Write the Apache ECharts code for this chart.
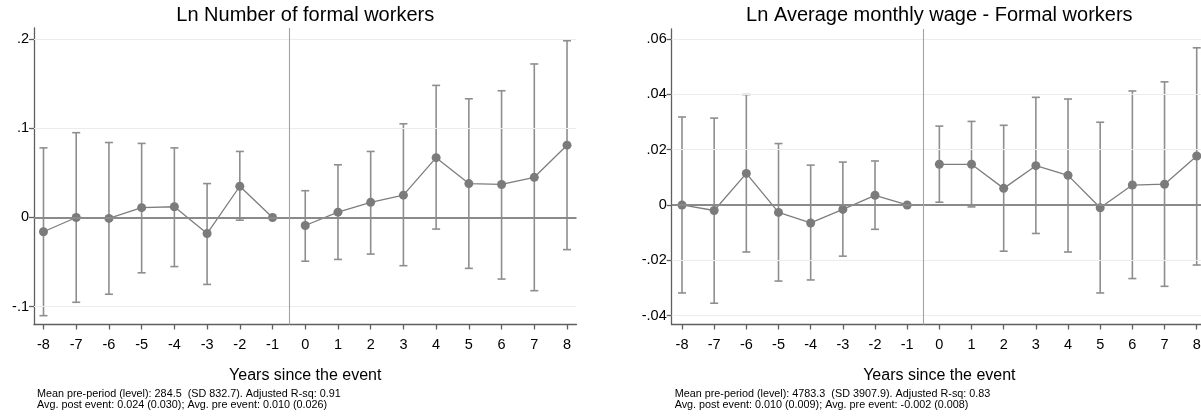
<!DOCTYPE html>
<html>
<head>
<meta charset="utf-8">
<script src="https://cdn.jsdelivr.net/npm/echarts@6/dist/echarts.min.js"></script>
<style>
html,body{margin:0;padding:0;background:#fff;}
#chart{width:1201px;height:418px;}
</style>
</head>
<body>
<div id="chart"></div>
<script>
// ---------------- data ----------------
const years = [-8, -7, -6, -5, -4, -3, -2, -1, 0, 1, 2, 3, 4, 5, 6, 7, 8];

const leftTitle = 'Ln Number of formal workers';
const leftCoef = [-0.016, 0.000, -0.001, 0.011, 0.012, -0.018, 0.035, 0, -0.009, 0.006, 0.017, 0.025, 0.067, 0.038, 0.037, 0.045, 0.081];
const leftLo   = [-0.110, -0.095, -0.086, -0.062, -0.055, -0.075, -0.003, null, -0.049, -0.047, -0.041, -0.054, -0.013, -0.057, -0.069, -0.082, -0.036];
const leftHi   = [0.078, 0.095, 0.084, 0.083, 0.078, 0.038, 0.074, null, 0.030, 0.059, 0.074, 0.105, 0.148, 0.133, 0.142, 0.172, 0.198];
const leftYTicks = [-0.1, 0, 0.1, 0.2];
const leftYTickLabels = ['-.1', '0', '.1', '.2'];
const leftNote = ['Mean pre-period (level): 284.5  (SD 832.7). Adjusted R-sq: 0.91',
                  'Avg. post event: 0.024 (0.030); Avg. pre event: 0.010 (0.026)'];

const rightTitle = 'Ln Average monthly wage - Formal workers';
const rightCoef = [0.000, -0.002, 0.0114, -0.0027, -0.0065, -0.0016, 0.0035, 0, 0.0147, 0.0147, 0.0060, 0.0142, 0.0107, -0.0010, 0.0072, 0.0075, 0.0177];
const rightLo   = [-0.0318, -0.0355, -0.0170, -0.0275, -0.0271, -0.0185, -0.0088, null, 0.0010, -0.0007, -0.0167, -0.0103, -0.0170, -0.0318, -0.0266, -0.0294, -0.0217];
const rightHi   = [0.0318, 0.0314, 0.0399, 0.0222, 0.0144, 0.0155, 0.0159, null, 0.0285, 0.0302, 0.0288, 0.0389, 0.0383, 0.0299, 0.0412, 0.0445, 0.0568];
const rightYTicks = [-0.04, -0.02, 0, 0.02, 0.04, 0.06];
const rightYTickLabels = ['-.04', '-.02', '0', '.02', '.04', '.06'];
const rightNote = ['Mean pre-period (level): 4783.3  (SD 3907.9). Adjusted R-sq: 0.83',
                   'Avg. post event: 0.010 (0.009); Avg. pre event: -0.002 (0.008)'];

const xTicks = years;
const xAxisTitle = 'Years since the event';
const eventLine = -0.5;
// --------------------------------------

const FONT = '"Liberation Sans", Arial, Helvetica, sans-serif';
const AXIS_COLOR = '#5f5f5f';
const MARK_COLOR = '#7b7b7b';
const BAR_COLOR = '#8e8e8e';

const panels = [
  {title: leftTitle, coef: leftCoef, lo: leftLo, hi: leftHi, yTicks: leftYTicks, yLabels: leftYTickLabels, note: leftNote,
   grid: {left: 34, top: 28, width: 542.5, height: 296.5}, yMin: -0.1199, yMax: 0.2123, xMin: -8.29, xMax: 8.29},
  {title: rightTitle, coef: rightCoef, lo: rightLo, hi: rightHi, yTicks: rightYTicks, yLabels: rightYTickLabels, note: rightNote,
   grid: {left: 671.7, top: 29, width: 535.3, height: 295.5}, yMin: -0.0432, yMax: 0.0636, xMin: -8.32, xMax: 8.32}
];

function labelFor(ticks, labels) {
  return function (v) {
    for (let i = 0; i < ticks.length; i++) if (Math.abs(ticks[i] - v) < 1e-9) return labels[i];
    return '';
  };
}

const grids = [], xAxes = [], yAxes = [], series = [], graphics = [];

panels.forEach((p, k) => {
  grids.push(Object.assign({containLabel: false, outerBoundsMode: 'none'}, p.grid));
  xAxes.push({
    type: 'value', gridIndex: k, min: p.xMin, max: p.xMax,
    name: xAxisTitle, nameLocation: 'middle', nameGap: 43,
    nameTextStyle: {fontFamily: FONT, fontSize: 16, color: '#000'},
    axisLine: {show: true, onZero: false, lineStyle: {color: AXIS_COLOR, width: 1.3}},
    axisTick: {show: true, length: 5, customValues: xTicks, lineStyle: {color: AXIS_COLOR, width: 1.3}},
    axisLabel: {customValues: xTicks, margin: 13, fontFamily: FONT, fontSize: 14.5, color: '#000',
                formatter: v => String(Math.round(v))},
    splitLine: {show: false}
  });
  yAxes.push({
    type: 'value', gridIndex: k, min: p.yMin, max: p.yMax,
    axisLine: {show: true, onZero: false, lineStyle: {color: AXIS_COLOR, width: 1.3}},
    axisTick: {show: true, length: 5, customValues: p.yTicks, lineStyle: {color: AXIS_COLOR, width: 1.3}},
    axisLabel: {customValues: p.yTicks, margin: 5, fontFamily: FONT, fontSize: 14.5, color: '#000',
                formatter: labelFor(p.yTicks, p.yLabels)},
    splitLine: {show: false}
  });

  // grid lines + reference lines
  const gridLines = p.yTicks.filter(t => Math.abs(t) > 1e-12).map(t => ({yAxis: t, lineStyle: {color: '#ececec', width: 1.2, type: 'solid'}}));
  series.push({
    type: 'line', xAxisIndex: k, yAxisIndex: k, data: [], silent: true, z: 1,
    markLine: {
      silent: true, symbol: ['none', 'none'], label: {show: false}, animation: false,
      data: gridLines.concat([
        {yAxis: 0, lineStyle: {color: '#8a8a8a', width: 1.8, type: 'solid'}},
        {xAxis: eventLine, lineStyle: {color: '#a3a3a3', width: 1.1, type: 'solid'}}
      ])
    }
  });

  // confidence intervals
  const ciData = [];
  years.forEach((y, i) => { if (p.lo[i] !== null && p.hi[i] !== null) ciData.push([y, p.lo[i], p.hi[i]]); });
  series.push({
    type: 'custom', xAxisIndex: k, yAxisIndex: k, z: 3, silent: true,
    data: ciData, encode: {x: 0, y: [1, 2]},
    renderItem: function (params, api) {
      const x = api.value(0);
      const a = api.coord([x, api.value(1)]);
      const b = api.coord([x, api.value(2)]);
      const cap = 4;
      const st = {stroke: BAR_COLOR, lineWidth: 1.6};
      return {type: 'group', children: [
        {type: 'line', shape: {x1: a[0], y1: a[1], x2: b[0], y2: b[1]}, style: st},
        {type: 'line', shape: {x1: a[0] - cap, y1: a[1], x2: a[0] + cap, y2: a[1]}, style: st},
        {type: 'line', shape: {x1: b[0] - cap, y1: b[1], x2: b[0] + cap, y2: b[1]}, style: st}
      ]};
    }
  });

  // point estimates: pre and post segments
  const pre = [], post = [];
  years.forEach((y, i) => { (y < eventLine ? pre : post).push([y, p.coef[i]]); });
  [pre, post].forEach(d => {
    series.push({
      type: 'line', xAxisIndex: k, yAxisIndex: k, z: 4, silent: true, data: d,
      symbol: 'circle', symbolSize: 9, showSymbol: true,
      lineStyle: {color: '#7d7d7d', width: 1.3},
      itemStyle: {color: MARK_COLOR}
    });
  });

  const cx = p.grid.left + p.grid.width / 2;
  graphics.push({
    type: 'text', x: cx, y: 15,
    style: {text: p.title, font: '20px ' + FONT, fill: '#000', textAlign: 'center', textVerticalAlign: 'middle'}
  });
  graphics.push({
    type: 'text', x: p.grid.left + 3, y: 388.5,
    style: {text: p.note.join('\n'), font: '10.8px ' + FONT, lineHeight: 11, fill: '#000', textAlign: 'left', textVerticalAlign: 'top'}
  });
});

const chart = echarts.init(document.getElementById('chart'), null, {renderer: 'canvas'});
chart.setOption({
  animation: false,
  backgroundColor: '#ffffff',
  grid: grids, xAxis: xAxes, yAxis: yAxes, series: series,
  graphic: graphics
});
</script>
</body>
</html>
